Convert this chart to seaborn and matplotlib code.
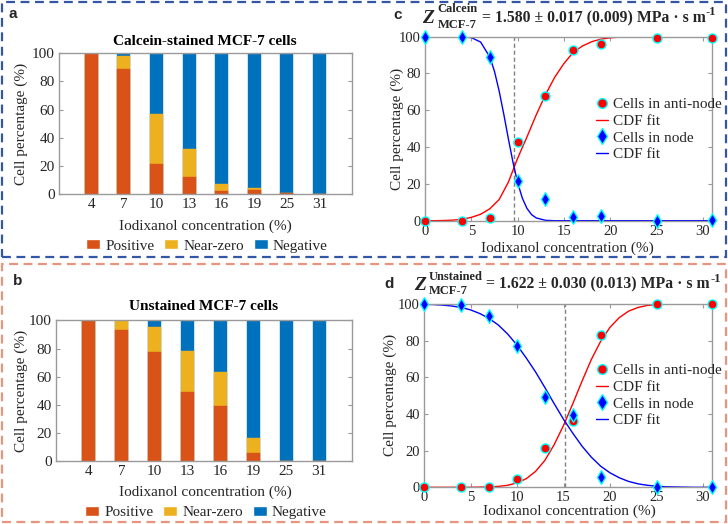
import numpy as np
import pandas as pd
import matplotlib
matplotlib.use("Agg")
import matplotlib.pyplot as plt
import seaborn as sns
from matplotlib.patches import Rectangle, Patch
from matplotlib.lines import Line2D

# ---------------- data ----------------
conc_labels = ["4", "7", "10", "13", "16", "19", "25", "31"]
a_positive = [100, 88.6, 21.1, 11.8, 2.1, 2.8, 0.5, 0.3]
a_nearzero = [0, 9.5, 35.8, 20.0, 5.0, 1.2, 0.0, 0.0]
a_negative = [0, 1.9, 43.1, 68.2, 92.9, 96.0, 99.5, 99.7]
b_positive = [99.5, 93.4, 77.3, 49.4, 39.2, 5.9, 0, 0]
b_nearzero = [0.5, 6.6, 18.2, 28.9, 24.2, 10.9, 0, 0]
b_negative = [0, 0, 4.5, 21.7, 36.6, 83.2, 100, 100]

conc = [0, 4, 7, 10, 13, 16, 19, 25, 31]
c_antinode = [0, 0, 1.5, 42.8, 67.6, 92.8, 95.8, 99.5, 99.5]
c_node = [100, 100, 89, 21.5, 11.8, 1.8, 2.7, 0, 0.5]
d_antinode = [0, 0, 0, 4.3, 21.5, 36.4, 83.2, 99.8, 99.8]
d_node = [100, 99.2, 93.2, 77.1, 49.3, 39.3, 5.6, 0, 0]

# CDF fit curves
fit_x = list(range(0, 32))
c_fit_anti = [0, 0, 0.1, 0.3, 0.8, 1.8, 3.5, 6.5, 11.5, 21, 34, 45.5, 57.5, 68.5, 78, 85.5,
              91.5, 95, 97.3, 98.7, 99.4, 99.8, 100, 100, 100, 100, 100, 100, 100, 100, 100, 100]
c_fit_node_x = [0, 4, 5, 6, 7, 7.5, 8, 8.5, 9, 9.5, 10, 10.5, 11, 11.5, 12, 13, 14, 31]
c_fit_node = [100, 99.95, 99.5, 97.1, 88.9, 81.1, 70.5, 57.9, 44.4, 31.6, 20.6, 12.3, 6.7,
              3.3, 1.5, 0.2, 0, 0]
d_fit_anti = [0, 0, 0, 0, 0, 0, 0.1, 0.2, 0.5, 1.1, 2.4, 4.7, 8.7, 14.7, 23.3, 33.7, 45.6,
              58, 69.8, 79.7, 87.3, 92.6, 96.1, 98.1, 99.2, 99.7, 99.9, 100, 100, 100, 100, 100]
d_fit_node = [99.8, 99.7, 99.4, 98.9, 98.1, 96.8, 94.8, 92.1, 88.5, 83.6, 77.6, 70.5, 62.9,
              54.4, 45.6, 37.1, 29.5, 22.4, 16.4, 11.5, 7.9, 5.2, 3.2, 1.9, 1.1, 0.6, 0.3,
              0.2, 0.1, 0, 0, 0]
c_vline = 9.65
d_vline = 15.2

# ---------------- style ----------------
sns.set_style("white")
plt.rcParams["font.family"] = ["Liberation Serif", "DejaVu Serif"]
C_POS, C_NZ, C_NEG = "#D95319", "#EDB120", "#0072BD"
SPINE = "#9a9a9a"
TXT = "#262626"

W, H = 728, 524
fig = plt.figure(figsize=(W / 100, H / 100), dpi=100)


def ax_at(l, t, r, b):
    return fig.add_axes([l / W, 1 - b / H, (r - l) / W, (b - t) / H])


def ftext(x, y, s, **kw):
    kw.setdefault("ha", "center")
    kw.setdefault("va", "center")
    return fig.text(x / W, 1 - y / H, s, **kw)


def style_axes(ax, tick_fs=10.5):
    for sp in ax.spines.values():
        sp.set_color(SPINE)
        sp.set_linewidth(1.0)
        sp.set_visible(True)
    ax.tick_params(direction="in", length=3, width=0.8, color=SPINE, labelcolor=TXT,
                   labelsize=tick_fs, top=True, right=True, bottom=True, left=True)
    ax.tick_params(axis="y", pad=3)
    ax.tick_params(axis="x", pad=3)
    ax.set_xlabel("")
    ax.set_ylabel("")


def bar_panel(ax, pos, nz, neg):
    pos = np.asarray(pos, float)
    nz = np.asarray(nz, float)
    neg = np.asarray(neg, float)
    df = pd.DataFrame({"conc": conc_labels, "top": pos + nz + neg, "mid": pos + nz, "pos": pos})
    for col, c in [("top", C_NEG), ("mid", C_NZ), ("pos", C_POS)]:
        sns.barplot(data=df, x="conc", y=col, color=c, saturation=1, width=0.4, ax=ax,
                    order=conc_labels, errorbar=None, linewidth=0.3, edgecolor=c)
    ax.set_xlim(-1, 8)
    ax.set_ylim(0, 100)
    ax.set_yticks(range(0, 101, 20))
    style_axes(ax, 11)
    ax.tick_params(axis="x", top=False)


def line_panel(ax, an, node, fxa, fya, fxn, fyn, vline):
    ax.axvline(vline, color="#808080", ls=(0, (3, 2)), lw=1, zorder=1)
    sns.lineplot(x=fxa, y=fya, color="red", lw=1, ax=ax, estimator=None, sort=False, zorder=2)
    sns.lineplot(x=fxn, y=fyn, color="blue", lw=1, ax=ax, estimator=None, sort=False, zorder=2)
    sns.scatterplot(x=conc, y=an, marker="o", s=42, color="red", edgecolor="cyan",
                    linewidth=1, ax=ax, zorder=4, clip_on=False)
    sns.scatterplot(x=conc, y=node, marker="d", s=48, color="blue", edgecolor="cyan",
                    linewidth=1, ax=ax, zorder=4, clip_on=False)
    ax.set_xlim(0, 31)
    ax.set_ylim(0, 100)
    ax.set_xticks(range(0, 31, 5))
    ax.set_yticks(range(0, 101, 20))
    style_axes(ax, 10.5)


def line_legend(ax, left, top):
    handles = [
        Line2D([], [], marker="o", ls="none", markerfacecolor="red", markeredgecolor="cyan", ms=7),
        Line2D([], [], color="red", lw=1),
        Line2D([], [], marker="d", ls="none", markerfacecolor="blue", markeredgecolor="cyan", ms=8),
        Line2D([], [], color="blue", lw=1),
    ]
    labels = ["Cells in anti-node", "CDF fit", "Cells in node", "CDF fit"]
    ax.legend(handles, labels, loc="upper left", bbox_to_anchor=(left / W, 1 - top / H),
              bbox_transform=fig.transFigure, frameon=False, fontsize=11, handlelength=0.8,
              handletextpad=0.35, labelspacing=0.2, borderpad=0, borderaxespad=0)


def bar_legend(ax, cx, cy):
    handles = [Patch(facecolor=C_POS), Patch(facecolor=C_NZ), Patch(facecolor=C_NEG)]
    ax.legend(handles, ["Positive", "Near-zero", "Negative"], ncol=3, loc="center",
              bbox_to_anchor=(cx / W, 1 - cy / H), bbox_transform=fig.transFigure,
              frameon=False, fontsize=11, handlelength=0.9, handleheight=0.6,
              handletextpad=0.35, columnspacing=0.65, borderpad=0, borderaxespad=0)


def z_title(x_z, y_main, sup, sub, x_sup, y_sup, y_sub, x_main, rest, y_exp):
    ftext(x_z, y_main + 0.5, "Z", fontsize=14, fontweight="bold", style="italic", ha="left")
    ftext(x_sup, y_sup, sup, fontsize=9, fontweight="bold", ha="left")
    ftext(x_sup, y_sub, sub, fontsize=9, fontweight="bold", ha="left")
    t = ftext(x_main, y_main, rest, fontsize=11.3, fontweight="bold", ha="left")
    fig.canvas.draw()
    bb = t.get_window_extent()
    ftext(bb.x1 + 0.5, y_exp, "-1", fontsize=9, fontweight="bold", ha="left")


# ---------------- frames ----------------
fig.patches.append(Rectangle((1.5 / W, 1 - 256.5 / H), 724.5 / W, 255 / H, transform=fig.transFigure,
                             fill=False, ec="#3556a4", lw=1.6, ls=(0, (4, 2.5))))
fig.patches.append(Rectangle((1.5 / W, 1 - 521.5 / H), 724.5 / W, 258 / H, transform=fig.transFigure,
                             fill=False, ec="#e8957f", lw=1.6, ls=(0, (4, 2.5))))

# ---------------- panel a ----------------
ax_a = ax_at(58.7, 53.3, 352, 194)
bar_panel(ax_a, a_positive, a_nearzero, a_negative)
bar_legend(ax_a, 207, 246)
ftext(205, 41.7, "Calcein-stained MCF-7 cells", fontsize=11, fontweight="bold", color="black")
ftext(21.7, 123.7, "Cell percentage (%)", fontsize=11, rotation=90, color=TXT)
ftext(205, 226, "Iodixanol concentration (%)", fontsize=11, color=TXT)
ftext(13, 14, "a", fontsize=11, fontweight="bold", family="Liberation Sans")

# ---------------- panel b ----------------
ax_b = ax_at(56, 320.3, 352, 461.3)
bar_panel(ax_b, b_positive, b_nearzero, b_negative)
bar_legend(ax_b, 206, 512.7)
ftext(204, 307, "Unstained MCF-7 cells", fontsize=11, fontweight="bold", color="black")
ftext(21.7, 390.8, "Cell percentage (%)", fontsize=11, rotation=90, color=TXT)
ftext(205, 492, "Iodixanol concentration (%)", fontsize=11, color=TXT)
ftext(18, 281, "b", fontsize=11, fontweight="bold", family="Liberation Sans")

# ---------------- panel c ----------------
ax_c = ax_at(425, 36.7, 712.3, 220.7)
line_panel(ax_c, c_antinode, c_node, fit_x, c_fit_anti, c_fit_node_x, c_fit_node, c_vline)
line_legend(ax_c, 595.5, 97.5)
ftext(397.3, 128.7, "Cell percentage (%)", fontsize=11, rotation=90, color=TXT)
ftext(567.3, 248.6, "Iodixanol concentration (%)", fontsize=11, color=TXT)
ftext(397.3, 15, "c", fontsize=11, fontweight="bold", family="Liberation Sans")
z_title(422.5, 18.3, "Calcein", "MCF-7", 437.5, 9.3, 24.5, 481.5,
        "= 1.580 \u00b1 0.017 (0.009) MPa \u00b7 s m", 11.7)

# ---------------- panel d ----------------
ax_d = ax_at(424, 304, 712.3, 487.3)
line_panel(ax_d, d_antinode, d_node, fit_x, d_fit_anti, fit_x, d_fit_node, d_vline)
line_legend(ax_d, 595.5, 363.5)
ftext(390.7, 395.3, "Cell percentage (%)", fontsize=11, rotation=90, color=TXT)
ftext(569, 511, "Iodixanol concentration (%)", fontsize=11, color=TXT)
ftext(389, 283.7, "d", fontsize=11, fontweight="bold", family="Liberation Sans")
z_title(414.5, 284.7, "Unstained", "MCF-7", 428.5, 277, 291.5, 486.5,
        "= 1.622 \u00b1 0.030 (0.013) MPa \u00b7 s m", 279.3)

fig.savefig("out.png", dpi=100)
